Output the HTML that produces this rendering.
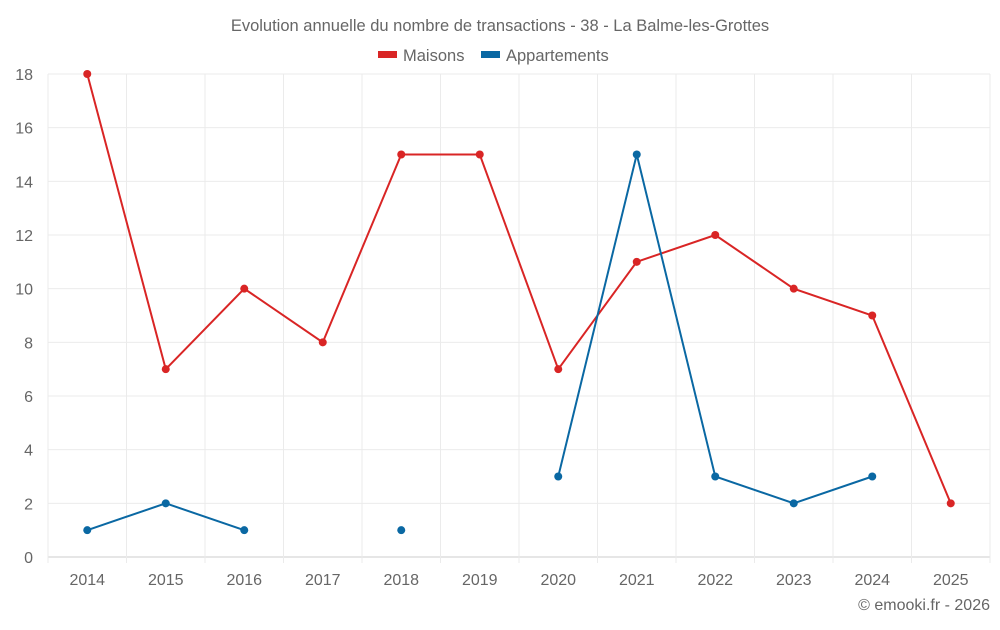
<!DOCTYPE html>
<html><head><meta charset="utf-8"><style>
body{margin:0;background:#fff;font-family:"Liberation Sans",sans-serif;}
svg text{font-family:"Liberation Sans",sans-serif;fill:#666;}
</style></head><body>
<svg id="c" width="1000" height="625">
<text x="500" y="31" text-anchor="middle" font-size="16.5">Evolution annuelle du nombre de transactions - 38 - La Balme-les-Grottes</text>
<g>
<rect x="378" y="51" width="19" height="7" fill="#d92525"/>
<text x="403" y="61" font-size="16.5">Maisons</text>
<rect x="481" y="51" width="19" height="7" fill="#0a68a3"/>
<text x="506" y="61" font-size="16.5">Appartements</text>
</g>
<g id="grid"></g><g id="axes"></g><g id="series"></g>
<text x="990" y="610" text-anchor="end" font-size="16">© emooki.fr - 2026</text>
</svg>
<script>
const years=[2014,2015,2016,2017,2018,2019,2020,2021,2022,2023,2024,2025];
const maisons=[18,7,10,8,15,15,7,11,12,10,9,2];
const appartements=[1,2,1,null,1,null,3,15,3,2,3,null];
const yTicks=[0,2,4,6,8,10,12,14,16,18];
const NS="http://www.w3.org/2000/svg";
const L=48,R=990,T=74,B=557,yMax=18;
const bw=(R-L)/years.length;
const xs=i=>L+bw*(i+0.5);
const ys=v=>B-(v/yMax)*(B-T);
function mk(tag,attrs,parent){const e=document.createElementNS(NS,tag);for(const k in attrs)e.setAttribute(k,attrs[k]);parent.appendChild(e);return e;}
const grid=document.getElementById('grid'),axes=document.getElementById('axes'),ser=document.getElementById('series');
yTicks.forEach(t=>{
 const l=mk('line',{x1:L,x2:R,y1:ys(t),y2:ys(t),stroke:t===0?'#ccc':'#ebebeb'},grid);
 
 
 const tx=mk('text',{x:33,y:ys(t)+6,'text-anchor':'end','font-size':16},axes);
 tx.textContent=t;
 
 
});
for(let i=0;i<=years.length;i++){
 const l=mk('line',{x1:L+bw*i,x2:L+bw*i,y1:T,y2:B+(i<years.length+1?6:0),stroke:'#ebebeb'},grid);
 
 
}
years.forEach((y,i)=>{
 const tx=mk('text',{x:xs(i),y:585,'text-anchor':'middle','font-size':16},axes);
 tx.textContent=y;
 
 
});
function draw(vals,color,name){
 let seg=[];
 const flush=()=>{if(seg.length>1){const p=mk('polyline',{points:seg.join(' '),fill:'none',stroke:color,'stroke-width':2},ser);
  
  }seg=[];};
 vals.forEach((v,i)=>{if(v===null){flush();return;}seg.push(xs(i)+','+ys(v));});
 flush();
 vals.forEach((v,i)=>{if(v===null)return;
  const c=mk('circle',{cx:xs(i),cy:ys(v),r:4,fill:color},ser);
  
  });
}
draw(maisons,'#d92525','maisons');
draw(appartements,'#0a68a3','appartements');
</script>
</body></html>
